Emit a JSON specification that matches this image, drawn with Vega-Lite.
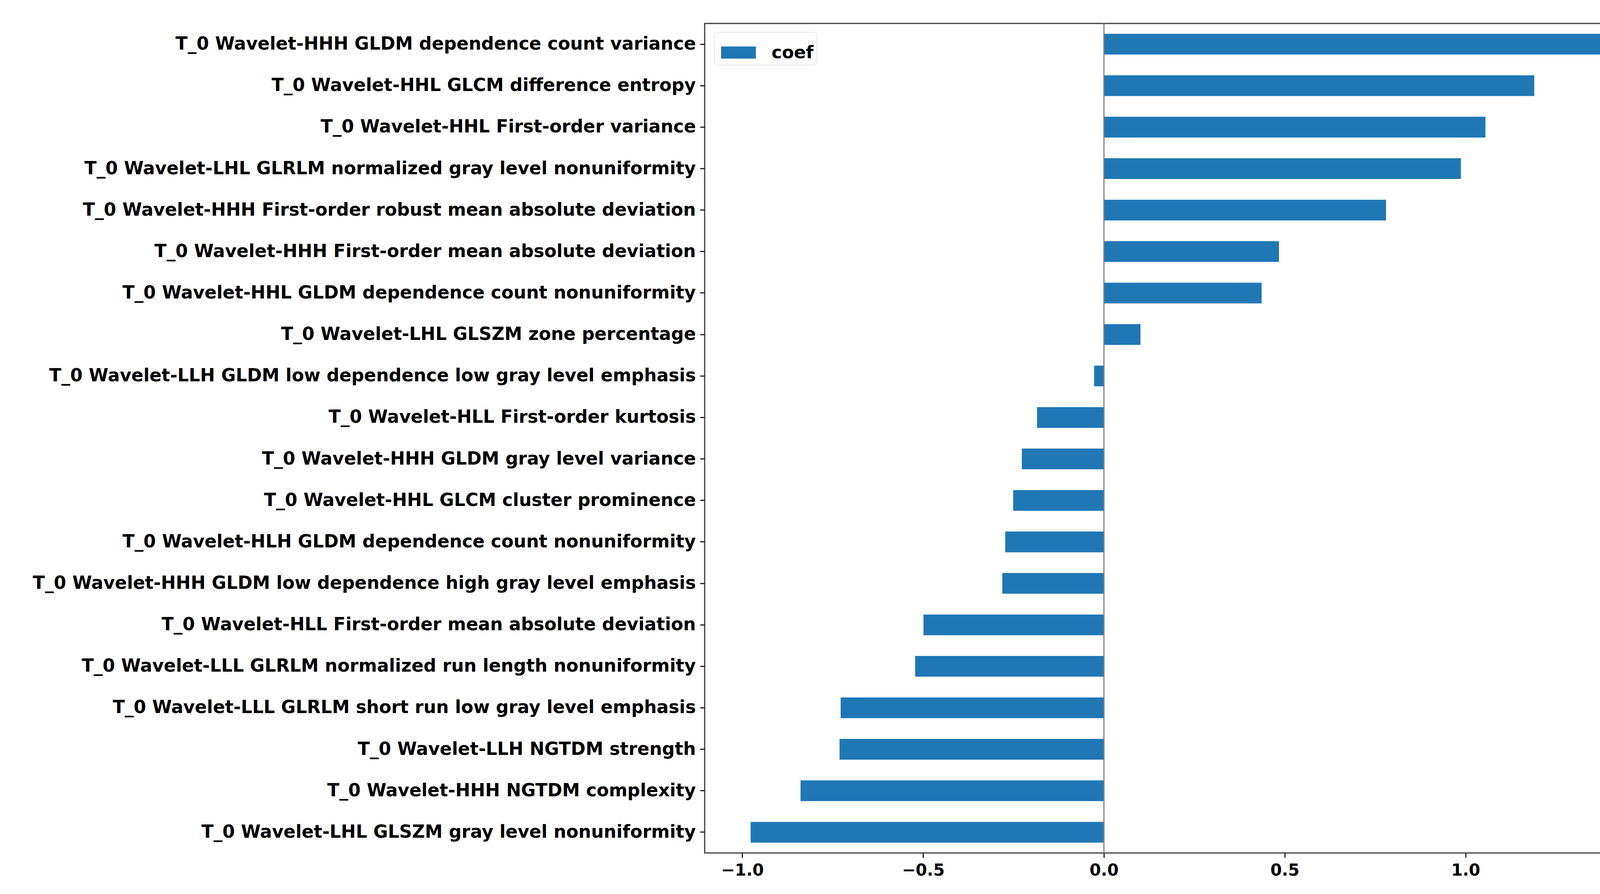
{
  "$schema": "https://vega.github.io/schema/vega-lite/v6.json",
  "autosize": {"type": "fit", "contains": "padding"},
  "padding": {"left": 83, "top": 58, "right": 92, "bottom": 40},
  "width": 4466,
  "height": 2288,
  "background": "white",
  "config": {
    "font": "DejaVu Sans",
    "view": {"stroke": "#3a3a3a", "strokeWidth": 3},
    "axis": {
      "labelFont": "DejaVu Sans",
      "labelFontWeight": "bold",
      "labelColor": "#000000",
      "tickColor": "#222222",
      "tickWidth": 3,
      "tickSize": 12,
      "domain": false,
      "grid": false
    }
  },
  "data": {
    "values": [
      {"feature": "T_0 Wavelet-HHH GLDM dependence count variance", "coef": 1.537, "series": "coef"},
      {"feature": "T_0 Wavelet-HHL GLCM difference entropy", "coef": 1.190, "series": "coef"},
      {"feature": "T_0 Wavelet-HHL First-order variance", "coef": 1.055, "series": "coef"},
      {"feature": "T_0 Wavelet-LHL GLRLM normalized gray level nonuniformity", "coef": 0.987, "series": "coef"},
      {"feature": "T_0 Wavelet-HHH First-order robust mean absolute deviation", "coef": 0.780, "series": "coef"},
      {"feature": "T_0 Wavelet-HHH First-order mean absolute deviation", "coef": 0.484, "series": "coef"},
      {"feature": "T_0 Wavelet-HHL GLDM dependence count nonuniformity", "coef": 0.436, "series": "coef"},
      {"feature": "T_0 Wavelet-LHL GLSZM zone percentage", "coef": 0.101, "series": "coef"},
      {"feature": "T_0 Wavelet-LLH GLDM low dependence low gray level emphasis", "coef": -0.027, "series": "coef"},
      {"feature": "T_0 Wavelet-HLL First-order kurtosis", "coef": -0.185, "series": "coef"},
      {"feature": "T_0 Wavelet-HHH GLDM gray level variance", "coef": -0.227, "series": "coef"},
      {"feature": "T_0 Wavelet-HHL GLCM cluster prominence", "coef": -0.251, "series": "coef"},
      {"feature": "T_0 Wavelet-HLH GLDM dependence count nonuniformity", "coef": -0.273, "series": "coef"},
      {"feature": "T_0 Wavelet-HHH GLDM low dependence high gray level emphasis", "coef": -0.281, "series": "coef"},
      {"feature": "T_0 Wavelet-HLL First-order mean absolute deviation", "coef": -0.499, "series": "coef"},
      {"feature": "T_0 Wavelet-LLL GLRLM normalized run length nonuniformity", "coef": -0.522, "series": "coef"},
      {"feature": "T_0 Wavelet-LLL GLRLM short run low gray level emphasis", "coef": -0.728, "series": "coef"},
      {"feature": "T_0 Wavelet-LLH NGTDM strength", "coef": -0.731, "series": "coef"},
      {"feature": "T_0 Wavelet-HHH NGTDM complexity", "coef": -0.839, "series": "coef"},
      {"feature": "T_0 Wavelet-LHL GLSZM gray level nonuniformity", "coef": -0.977, "series": "coef"}
    ]
  },
  "layer": [
    {
      "mark": {"type": "bar"},
      "encoding": {
        "y": {
          "field": "feature",
          "type": "nominal",
          "sort": null,
          "scale": {"paddingInner": 0.5, "paddingOuter": 0.25},
          "axis": {"title": null, "labelLimit": 2000, "labelPadding": 11, "labelFontSize": 45.5}
        },
        "x": {
          "field": "coef",
          "type": "quantitative",
          "scale": {"domain": [-1.104, 1.672], "nice": false, "zero": false},
          "axis": {"title": null, "values": [-1, -0.5, 0, 0.5, 1, 1.5], "format": ".1f", "labelPadding": 12, "labelFlush": false, "labelFontSize": 42}
        },
        "color": {
          "field": "series",
          "type": "nominal",
          "scale": {"range": ["#1f77b4"]},
          "legend": {
            "title": null,
            "orient": "none",
            "legendX": 25,
            "legendY": 22,
            "symbolType": "M-1,-0.35H1V0.35H-1Z",
            "symbolSize": 7921,
            "symbolStrokeWidth": 0,
            "symbolOpacity": 1,
            "symbolOffset": 9,
            "labelFont": "DejaVu Sans",
            "labelFontWeight": "bold",
            "labelFontSize": 45,
            "labelColor": "#000000",
            "labelOffset": 40,
            "padding": 8,
            "strokeColor": "#d0d0d0",
            "fillColor": "#ffffff",
            "cornerRadius": 8
          }
        }
      }
    },
    {
      "data": {"values": [{"z": 0}]},
      "mark": {"type": "rule", "color": "#808080", "strokeWidth": 3},
      "encoding": {"x": {"field": "z", "type": "quantitative"}}
    }
  ]
}
